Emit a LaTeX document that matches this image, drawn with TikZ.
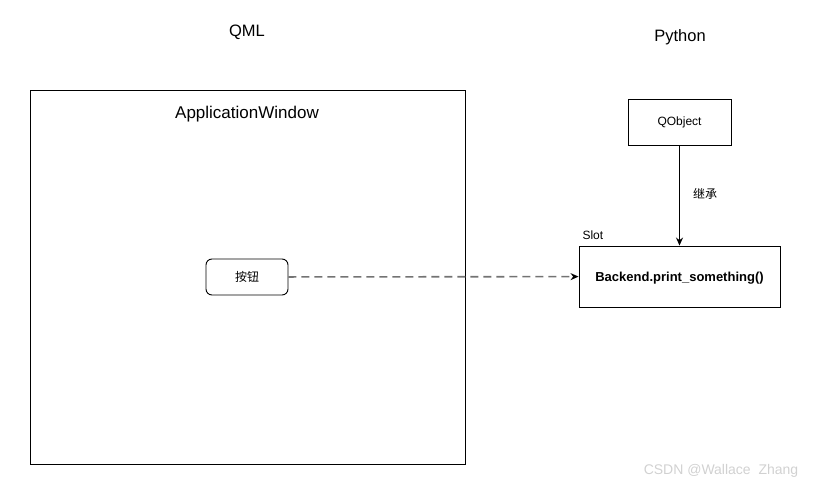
\documentclass[tikz,border=0pt]{standalone}
\usepackage{fontspec}
\setmainfont{Liberation Sans}
\newfontfamily\cjk{Noto Sans CJK SC}
\usetikzlibrary{arrows.meta}
\tikzset{
    box/.style={draw, rectangle, line width=0.9pt, inner sep=0pt},
    title/.style={font=\fontsize{16.5}{19}\selectfont},
    small/.style={font=\fontsize{12}{14}\selectfont},
    link/.style={line width=1.2pt, -{Stealth[length=8pt,width=7pt,color=black]}}
}
\begin{document}
\begin{tikzpicture}[x=1pt,y=-1pt]
    \useasboundingbox (0,0) rectangle (813,487);
    % headings
    \node[title] (qml) at (247,32) {QML};
    \node[title] (python) at (680,37) {Python};
    % QML side
    \node[box, minimum width=435pt, minimum height=374pt] (window) at (247.5,277) {};
    \node[title, font=\fontsize{17}{19}\selectfont] (windowlabel) at (247,114) {ApplicationWindow};
    \node[box, rounded corners=6pt, minimum width=82pt, minimum height=36pt, small] (button) at (247,277) {\cjk 按钮};
    % Python side
    \node[box, minimum width=103pt, minimum height=46pt, small] (qobject) at (679.5,122) {QObject};
    \node[box, minimum width=201pt, minimum height=61pt] (backend) at (679.5,276.5) {};
    \node[font=\fontsize{13}{15}\selectfont\bfseries] (backendlabel) at (679.5,278) {Backend.print\_something()};
    \node[small, anchor=west] (slot) at (579,235) {Slot};
    \node[small] (inherit) at (705,194) {\cjk 继承};
    \draw[link] (qobject) -- (backend);
    \draw[link, line width=1.6pt, draw=black!55, dash pattern=on 8pt off 5pt] (button) -- (backend);
    % watermark
    \node[font=\fontsize{14}{16}\selectfont, text=black!18] (mark) at (721,471) {CSDN @Wallace\ \ Zhang};
\end{tikzpicture}
\end{document}
